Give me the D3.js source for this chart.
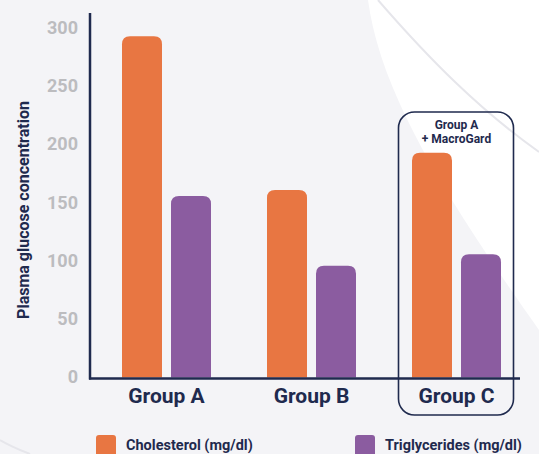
<!DOCTYPE html>
<html>
<head>
<meta charset="utf-8">
<script src="https://cdn.jsdelivr.net/npm/d3@7"></script>
<style>
  html, body { margin: 0; padding: 0; background: #f4f4f7; }
  svg { display: block; }
  text { font-family: Roboto, "Open Sans", "DejaVu Sans", sans-serif; }
</style>
</head>
<body>
<svg id="chart" width="539" height="454"></svg>
<script>
// Data
const groups = ["Group A", "Group B", "Group C"];
const series = ["Cholesterol (mg/dl)", "Triglycerides (mg/dl)"];
const cholesterol = [292, 160, 192];
const triglycerides = [155, 95, 105];
const yTicks = [0, 50, 100, 150, 200, 250, 300];
const highlightGroup = "Group C";
const highlightNote = ["Group A", "+ MacroGard"];

const colors = { "Cholesterol (mg/dl)": "#e87642", "Triglycerides (mg/dl)": "#8b5ca0" };
const navy = "#1f2a4e";

const svg = d3.select("#chart");

// Decorative background
svg.append("rect").attr("width", 539).attr("height", 454).attr("fill", "#f4f4f7");
svg.append("path")
  .attr("d", "M368,0 C380,90 440,190 539,330 L539,0 Z")
  .attr("fill", "#ffffff");
svg.append("path")
  .attr("d", "M378,0 C430,60 480,110 539,152")
  .attr("fill", "none").attr("stroke", "#e6e6eb").attr("stroke-width", 2);
svg.append("path")
  .attr("d", "M0,440 C10,446 20,450 30,454")
  .attr("fill", "none").attr("stroke", "#e6e6eb").attr("stroke-width", 2);

// Scales
const x = d3.scaleBand().domain(groups).range([94, 529]).paddingInner(0).paddingOuter(0);
const xs = d3.scaleBand().domain(series).range([28, 117]).paddingInner(9 / 49).paddingOuter(0);
const y = d3.scaleLinear().domain([0, 300]).range([376.5, 27]);

const rows = groups.map((g, i) => ({ group: g, values: [
  { key: series[0], value: cholesterol[i] },
  { key: series[1], value: triglycerides[i] }
]}));

// Bar with rounded top corners
function topRounded(x0, y0, w, h, r) {
  r = Math.min(r, h, w / 2);
  return `M${x0},${y0 + h}V${y0 + r}Q${x0},${y0} ${x0 + r},${y0}H${x0 + w - r}Q${x0 + w},${y0} ${x0 + w},${y0 + r}V${y0 + h}Z`;
}

const base = y(0) + 1;
svg.append("g").selectAll("g").data(rows).join("g")
  .attr("transform", d => `translate(${x(d.group)},0)`)
  .selectAll("path").data(d => d.values).join("path")
  .attr("fill", d => colors[d.key])
  .attr("d", d => topRounded(xs(d.key), y(d.value), xs.bandwidth(), base - y(d.value), 8));

// Y axis ticks (labels only)
const yAxis = d3.axisLeft(y).tickValues(yTicks).tickSize(0).tickPadding(0);
const gy = svg.append("g").attr("transform", "translate(78,0)").call(yAxis);
gy.select(".domain").remove();
gy.selectAll("text")
  .attr("fill", "#bcbcbf").attr("font-size", 18).attr("font-weight", 700)
  .attr("dy", "0.35em");

// Axis lines
svg.append("line").attr("x1", 90).attr("x2", 90).attr("y1", 13).attr("y2", 379.5)
  .attr("stroke", navy).attr("stroke-width", 2.5);
svg.append("line").attr("x1", 89).attr("x2", 520).attr("y1", 378.5).attr("y2", 378.5)
  .attr("stroke", navy).attr("stroke-width", 2.5);

// Group labels
const xAxis = d3.axisBottom(x).tickSize(0).tickPadding(0);
const gx = svg.append("g").attr("transform", "translate(0,396)").call(xAxis);
gx.select(".domain").remove();
gx.selectAll("text")
  .attr("fill", navy).attr("font-size", 21).attr("font-weight", 700)
  .attr("dy", "0.35em").attr("y", 0);

// Highlight box around Group C
const hx = x(highlightGroup);
const hc = hx + x.bandwidth() / 2;
svg.append("rect")
  .attr("x", hc - 58).attr("y", 112)
  .attr("width", 115).attr("height", 303)
  .attr("rx", 16).attr("ry", 16)
  .attr("fill", "none").attr("stroke", navy).attr("stroke-width", 1.6);
svg.append("g").selectAll("text").data(highlightNote).join("text")
  .attr("x", hc).attr("y", (d, i) => 128.5 + i * 14)
  .attr("text-anchor", "middle").attr("fill", navy)
  .attr("font-size", 12).attr("font-weight", 700)
  .text(d => d);

// Y axis title
svg.append("text")
  .attr("transform", "translate(29,210) rotate(-90)")
  .attr("text-anchor", "middle").attr("fill", navy)
  .attr("font-size", 16).attr("font-weight", 700)
  .text("Plasma glucose concentration");

// Legend
const legendX = [96, 355];
const lg = svg.append("g").selectAll("g").data(series).join("g")
  .attr("transform", (d, i) => `translate(${legendX[i]},435)`);
lg.append("rect").attr("width", 20).attr("height", 22).attr("rx", 3)
  .attr("fill", d => colors[d]);
lg.append("text").attr("x", 30).attr("y", 14.5)
  .attr("fill", navy).attr("font-size", 14.5).attr("font-weight", 700)
  .text(d => d);
</script>
</body>
</html>
